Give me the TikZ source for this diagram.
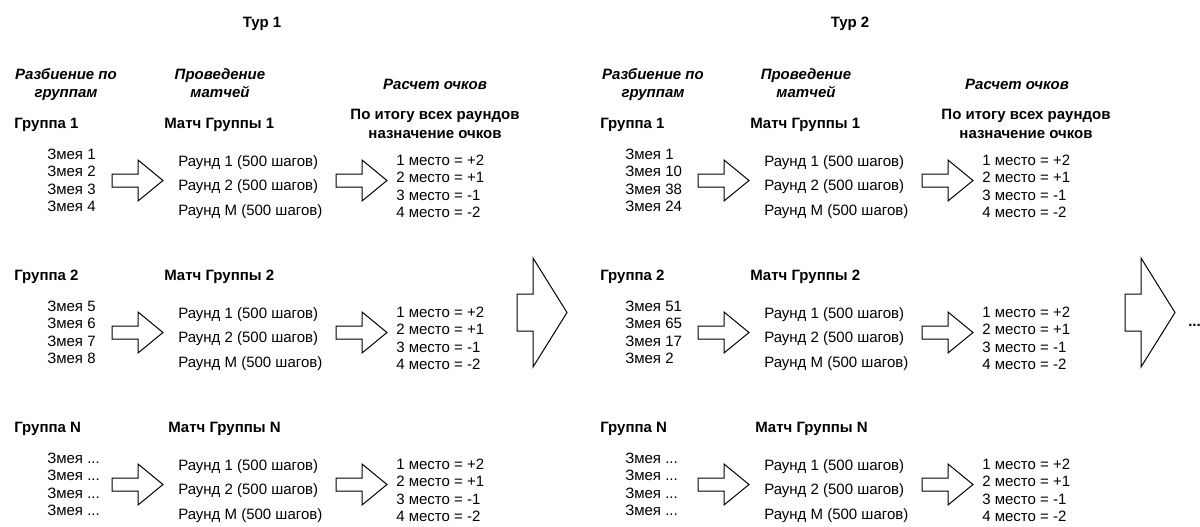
\documentclass[tikz,border=0pt]{standalone}
\usepackage{fontspec}
\setmainfont{Liberation Sans}
\newcommand\fnt{\fontsize{11.25pt}{13.5pt}\selectfont}
\newcommand\threedots{...}
\tikzset{
  txt/.style={anchor=base west, inner sep=0pt, font=\fnt},
  ctxt/.style={anchor=base, inner sep=0pt, font=\fnt},
  btxt/.style={anchor=base west, inner sep=0pt, font=\fnt\bfseries},
  bctxt/.style={anchor=base, inner sep=0pt, font=\fnt\bfseries},
  ictxt/.style={anchor=base, inner sep=0pt, font=\fnt\bfseries\itshape},
  arr/.style={draw=black, line width=0.75pt, fill=white, line join=miter},
  smallarrow/.pic={
    \path[arr] (0,-6.5) -- (26,-6.5) -- (26,-20.5) -- (51,0) -- (26,20.5) -- (26,6.5) -- (0,6.5) -- cycle;
    \coordinate (-tip) at (51,0);
  },
  bigarrow/.pic={
    \path[arr] (0,-18.5) -- (16,-18.5) -- (16,-54.5) -- (50,0) -- (16,54.5) -- (16,18.5) -- (0,18.5) -- cycle;
    \coordinate (-tip) at (50,0);
  }
}
% #1 id, #2 dx, #3 snake x, #4 G (row y), #5 group label, #6 match x, #7 snakes
\newcommand\grouprow[7]{%
  \node[btxt] (g#1) at (14+#2, #4+5) {Группа #5};
  \node[btxt] (m#1) at (#6, #4+5) {Матч Группы #5};
  \foreach \s [count=\i] in {#7} {\node[txt] (s#1-\i) at (#3, #4+18.5+17.5*\i) {Змея \s};}
  \node[txt] (r#1-1) at (178+#2, #4+43) {Раунд 1 (500 шагов)};
  \node[txt] (r#1-2) at (178+#2, #4+67) {Раунд 2 (500 шагов)};
  \node[txt] (r#1-3) at (178+#2, #4+92) {Раунд M (500 шагов)};
  \foreach \p/\v [count=\i] in {1/+2,2/+1,3/-1,4/-2} {\node[txt] (p#1-\i) at (396+#2, #4+24.5+17.5*\i) {\p{} место = \v};}
  \pic (a#1) at (112+#2, #4+57.5) {smallarrow};
  \pic (b#1) at (336+#2, #4+57.5) {smallarrow};
}
\begin{document}
\begin{tikzpicture}[x=0.75pt, y=-0.75pt]
\useasboundingbox (0,0) rectangle (1200,526);
% ---------- Tour 1 ----------
\node[bctxt] (t1) at (262,27) {Тур 1};
\node[ictxt] (h1a) at (66,79) {Разбиение по};
\node[ictxt] (h1b) at (66,97) {группам};
\node[ictxt] (h2a) at (220,79) {Проведение};
\node[ictxt] (h2b) at (220,97) {матчей};
\node[ictxt] (h3) at (435,89) {Расчет очков};
\node[bctxt] (h4a) at (435,119) {По итогу всех раундов};
\node[bctxt] (h4b) at (435,138) {назначение очков};
\grouprow{11}{0}{47}{123}{1}{164}{1,2,3,4}
\grouprow{12}{0}{47}{275}{2}{164}{5,6,7,8}
\grouprow{13}{0}{47}{427}{N}{168}{\threedots,\threedots,\threedots,\threedots}
\pic (big1) at (517,312.5) {bigarrow};
% ---------- Tour 2 ----------
\node[bctxt] (t2) at (850,27) {Тур 2};
\node[ictxt] (k1a) at (653,79) {Разбиение по};
\node[ictxt] (k1b) at (653,97) {группам};
\node[ictxt] (k2a) at (806,79) {Проведение};
\node[ictxt] (k2b) at (806,97) {матчей};
\node[ictxt] (k3) at (1017,89) {Расчет очков};
\node[bctxt] (k4a) at (1026,119) {По итогу всех раундов};
\node[bctxt] (k4b) at (1026,138) {назначение очков};
\grouprow{21}{586}{625}{123}{1}{750}{1,10,38,24}
\grouprow{22}{586}{625}{275}{2}{750}{51,65,17,2}
\grouprow{23}{586}{625}{427}{N}{755}{\threedots,\threedots,\threedots,\threedots}
\pic (big2) at (1125,312.5) {bigarrow};
\node[btxt] (more) at (1188,326) {\threedots};
\end{tikzpicture}
\end{document}
